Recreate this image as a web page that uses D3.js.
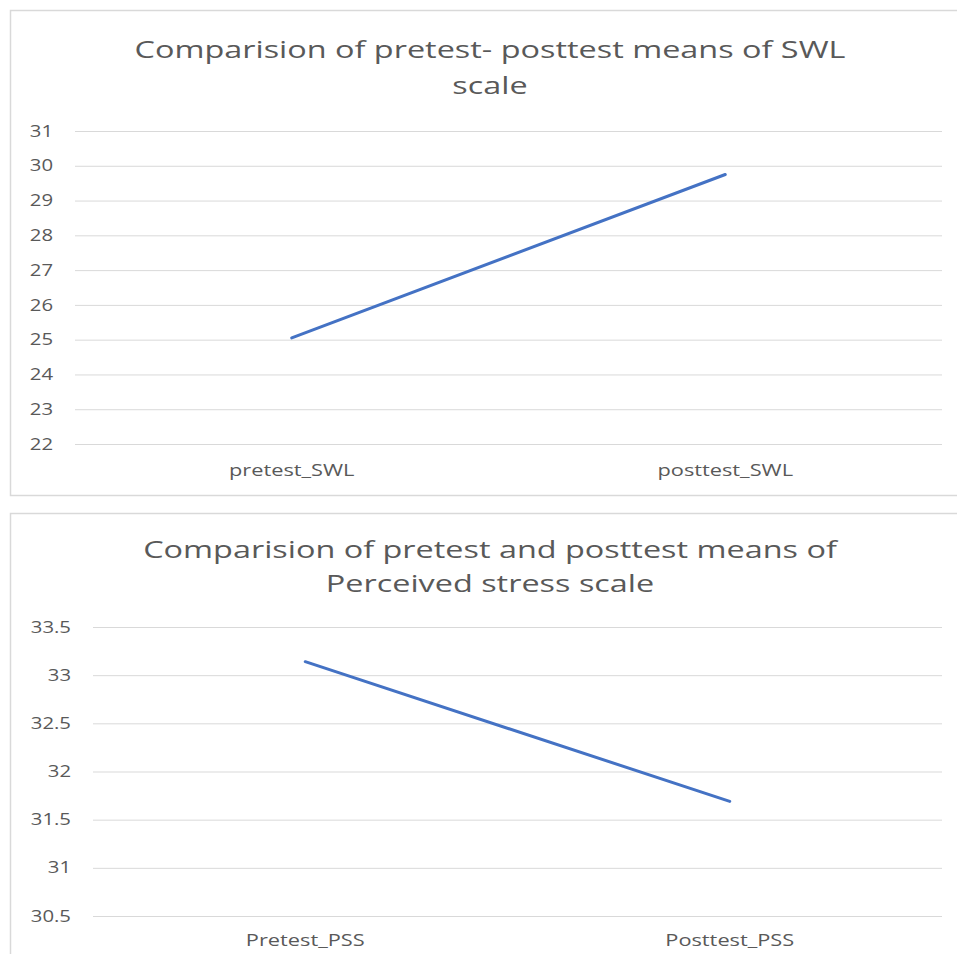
<!DOCTYPE html>
<html>
<head>
<meta charset="utf-8">
<script src="https://cdn.jsdelivr.net/npm/d3@7"></script>
<style>
  html, body { margin: 0; padding: 0; background: #fff; }
  svg { display: block; }
  text { font-family: "Open Sans", "Noto Sans", sans-serif; fill: #595959; }
</style>
</head>
<body>
<svg id="chart" width="957" height="954"></svg>
<script>
// SWL chart data
const swlCategories = ["pretest_SWL", "posttest_SWL"];
const swlMeans = [25.05, 29.75];
const swlTicks = [22, 23, 24, 25, 26, 27, 28, 29, 30, 31];
const swlTitle = ["Comparision of pretest- posttest means of SWL", "scale"];

// PSS chart data
const pssCategories = ["Pretest_PSS", "Posttest_PSS"];
const pssMeans = [33.14, 31.69];
const pssTicks = [30.5, 31, 31.5, 32, 32.5, 33, 33.5];
const pssTitle = ["Comparision of pretest and posttest means of", "Perceived stress scale"];

const svg = d3.select("#chart");

// widen glyphs horizontally by a factor, keeping the anchor point
function widen(sel, factor) {
  sel.each(function () {
    const w = this.getComputedTextLength();
    d3.select(this)
      .attr("textLength", w * factor)
      .attr("lengthAdjust", "spacingAndGlyphs");
  });
}

function drawPanel(cfg) {
  const g = svg.append("g");

  // chart frame
  g.append("rect")
    .attr("x", cfg.box.x + 0.5).attr("y", cfg.box.y + 0.5)
    .attr("width", cfg.box.w).attr("height", cfg.box.h)
    .attr("fill", "#fff").attr("stroke", "#d9d9d9").attr("stroke-width", 1.5);

  // title
  const t = g.selectAll(".title").data(cfg.title).join("text")
    .attr("class", "title")
    .attr("x", cfg.titleX)
    .attr("y", (d, i) => cfg.titleY + i * cfg.titleLead)
    .attr("text-anchor", "middle")
    .attr("font-size", 24)
    .text(d => d);
  widen(t, 1.35);

  const x = d3.scaleBand().domain(cfg.categories).range([cfg.plot.left, cfg.plot.right]);
  const y = d3.scaleLinear().domain(cfg.domain).range([cfg.plot.bottom, cfg.plot.top]);

  // gridlines + value labels
  const yAxis = d3.axisLeft(y)
    .tickValues(cfg.ticks)
    .tickSize(-(cfg.plot.right - cfg.plot.left))
    .tickPadding(cfg.tickPad)
    .tickFormat(d3.format("~g"));
  const ya = g.append("g").attr("transform", `translate(${cfg.plot.left},0)`).call(yAxis);
  ya.select(".domain").remove();
  ya.selectAll(".tick line").attr("stroke", "#d9d9d9").attr("stroke-width", 1);
  const yt = ya.selectAll(".tick text").attr("font-size", 16).attr("fill", "#595959")
    .style("font-family", '"Open Sans", sans-serif');
  widen(yt, 1.27);

  // category labels
  const xAxis = d3.axisBottom(x).tickSize(0).tickPadding(cfg.catPad);
  const xa = g.append("g").attr("transform", `translate(0,${cfg.plot.bottom})`).call(xAxis);
  xa.select(".domain").remove();
  const xt = xa.selectAll(".tick text").attr("font-size", 16).attr("fill", "#595959")
    .style("font-family", '"Open Sans", sans-serif');
  widen(xt, 1.36);

  // series line
  const pts = cfg.categories.map((c, i) => [x(c) + x.bandwidth() / 2, y(cfg.values[i])]);
  g.append("path")
    .attr("d", d3.line()(pts))
    .attr("fill", "none")
    .attr("stroke", "#4472c4")
    .attr("stroke-width", 3)
    .attr("stroke-linecap", "round");
}

drawPanel({
  box: { x: 10, y: 10, w: 960, h: 485 },
  title: swlTitle, titleX: 490, titleY: 58, titleLead: 36,
  categories: swlCategories, values: swlMeans,
  ticks: swlTicks, domain: [22, 31],
  plot: { left: 75, right: 942, top: 131, bottom: 444 },
  tickPad: 22, catPad: 21
});

drawPanel({
  box: { x: 10, y: 513, w: 960, h: 460 },
  title: pssTitle, titleX: 490, titleY: 558, titleLead: 34,
  categories: pssCategories, values: pssMeans,
  ticks: pssTicks, domain: [30.5, 33.5],
  plot: { left: 93, right: 942, top: 627, bottom: 916 },
  tickPad: 22, catPad: 19
});
</script>
</body>
</html>
